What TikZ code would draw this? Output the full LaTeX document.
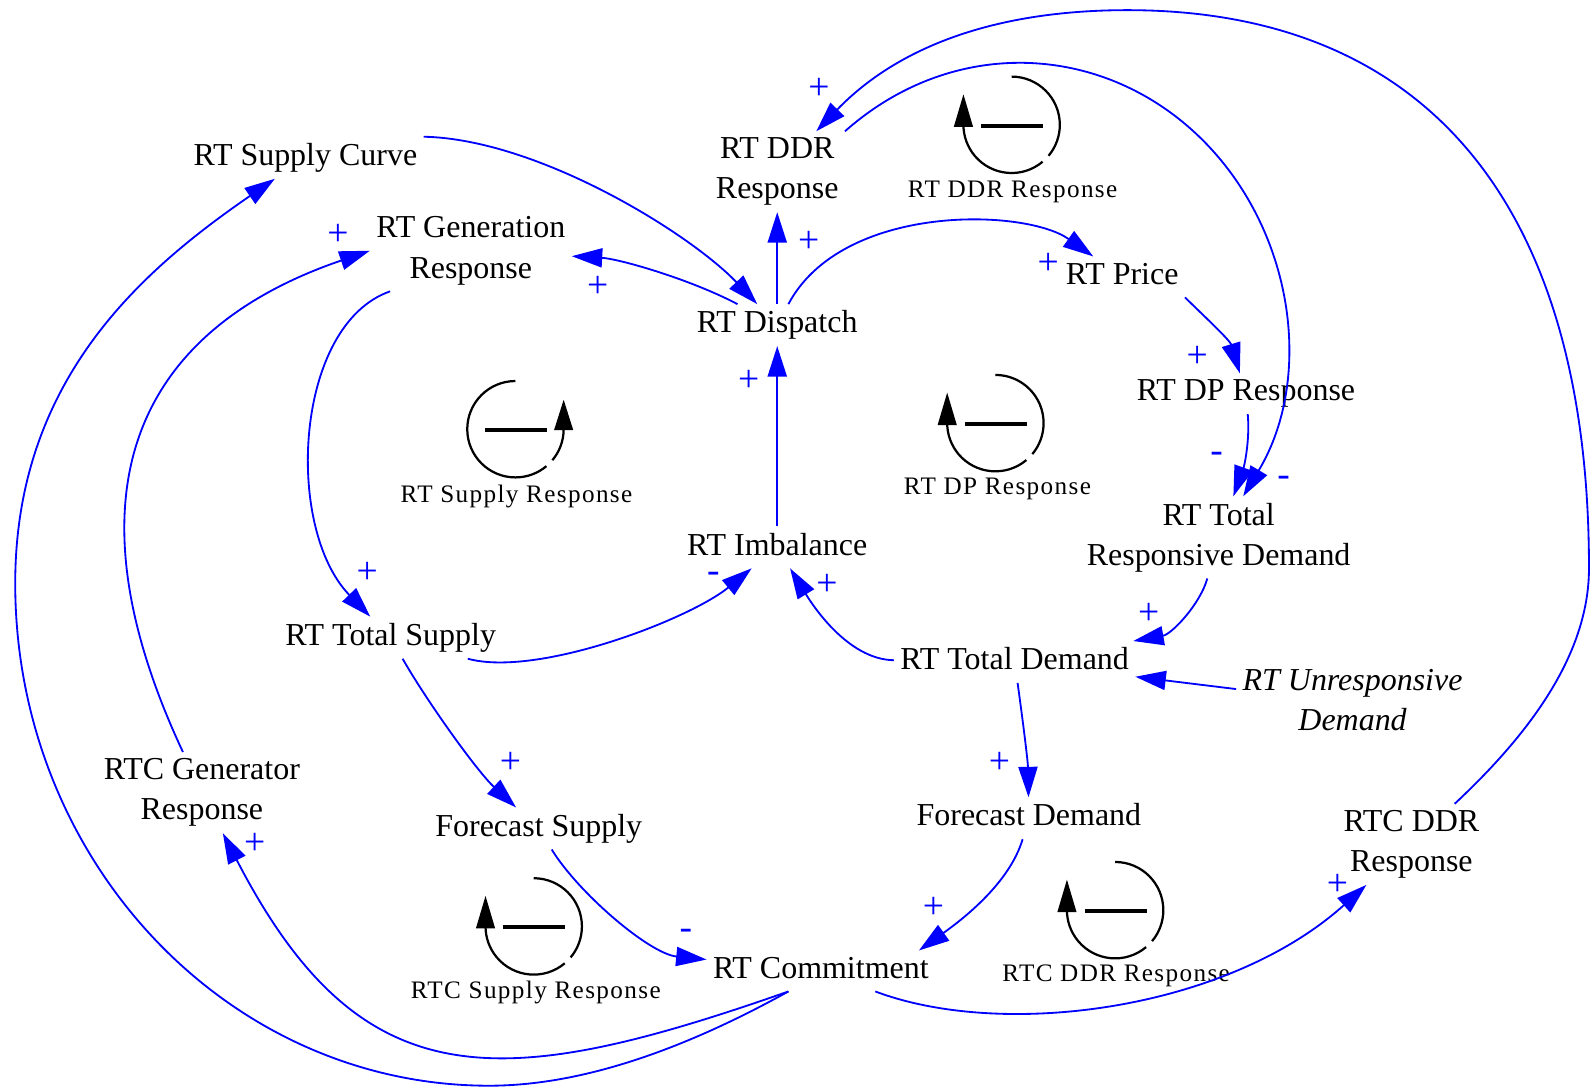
\documentclass[tikz,border=0pt]{standalone}
\usepackage{fontspec}
\setmainfont{Liberation Serif}
\usetikzlibrary{arrows.meta}
\definecolor{linkblue}{RGB}{0,0,255}
\tikzset{
  var/.style     = {inner sep=3pt, align=center, anchor=base,
                    font=\fontsize{15.75}{19.8}\selectfont,
                    execute at begin node={\vphantom{Rp}}},
  exo/.style     = {var, font=\fontsize{15.75}{19.8}\selectfont\itshape},
  link/.style    = {draw=linkblue, line width=0.9pt,
                    -{Triangle[length=15pt,width=9.4pt]}},
  pol/.style     = {text=linkblue, inner sep=0pt, font=\fontsize{18.5}{20}\selectfont},
  loopline/.style= {line width=1.1pt},
  looplbl/.style = {inner sep=0pt,
                    font=\fontsize{12.4}{15}\selectfont\addfontfeature{LetterSpace=5.5}},
  loopcw/.pic    = {
    \draw[loopline] (0,-47.5) arc[start angle=-90, end angle=40, radius=47.5];
    \draw[loopline] (50:47.5) arc[start angle=50, end angle=180, radius=47.5];
    \fill (-57,2) -- (-38,2) -- (-47.5,-30) -- cycle;
    \fill (-30,-1) rectangle (31,3);
  },
  loopccw/.pic   = {
    \draw[loopline] (0,-47.5) arc[start angle=-90, end angle=-310, radius=47.5];
    \draw[loopline] (-320:47.5) arc[start angle=-320, end angle=-360, radius=47.5];
    \fill (38,1) -- (57,1) -- (47.5,-29) -- cycle;
    \fill (-30,-1) rectangle (31,3);
  }
}

\begin{document}
\begin{tikzpicture}[x=0.5pt, y=-0.5pt]
  \useasboundingbox (0,0) rectangle (1568,1072);

  % variables (base = last line)
  \node[var] (supc)   at (301,163)  {RT Supply Curve};
  \node[var] (genr)   at (464,274)  {RT Generation\\Response};
  \node[var] (ddr)    at (766,196)  {RT DDR\\Response};
  \node[var] (disp)   at (766,328)  {RT Dispatch};
  \node[var] (price)  at (1106,280) {RT Price};
  \node[var] (dpr)    at (1228,395) {RT DP Response};
  \node[var] (trd)    at (1201,557) {RT Total\\Responsive Demand};
  \node[var] (imb)    at (766,547)  {RT Imbalance};
  \node[var] (tsup)   at (385,636)  {RT Total Supply};
  \node[var] (totd)   at (1000,660) {RT Total Demand};
  \node[exo] (unr)    at (1333,720) {RT Unresponsive\\Demand};
  \node[var] (rtcgen) at (199,808)  {RTC Generator\\Response};
  \node[var] (fsup)   at (531,824)  {Forecast Supply};
  \node[var] (fdem)   at (1014,814) {Forecast Demand};
  \node[var] (rtcddr) at (1391,859) {RTC DDR\\Response};
  \node[var] (rtc)    at (809,964)  {RT Commitment};

  % loops
  \pic (lddr)   at (997,123)  {loopcw};
  \pic (lsup)   at (508,423)  {loopccw};
  \pic (ldp)    at (981,417)  {loopcw};
  \pic (lrtcs)  at (526,913)  {loopcw};
  \pic (lrtcd)  at (1099,897) {loopcw};
  \node[looplbl] (lblddr)  at (998,189)  {RT DDR Response};
  \node[looplbl] (lblsup)  at (509,489)  {RT Supply Response};
  \node[looplbl] (lbldp)   at (983,482)  {RT DP Response};
  \node[looplbl] (lblrtcs) at (528,978)  {RTC Supply Response};
  \node[looplbl] (lblrtcd) at (1100,962) {RTC DDR Response};

  % links
  \draw[link] (supc.north east) .. controls (530,137) and (680,230) .. (disp);
  \draw[link] (disp) .. controls (680,275) and (610,255) .. (genr);
  \draw[link] (disp) -- (ddr);
  \draw[link] (disp) .. controls (830,200) and (1010,205) .. (price);
  \draw[link] (price.south east) .. controls (1185,310) and (1212,335) .. (dpr);
  \draw[link] (dpr) .. controls (1232,435) and (1226,460) .. (trd);
  \draw[link] (ddr.north east) .. controls (938,36) and (1083,42) .. (1179,132)
              .. controls (1275,222) and (1296,371) .. (trd);
  \draw[link] (trd) .. controls (1183,595) and (1155,625) .. (totd);
  \draw[link] (unr) -- (totd);
  \draw[link] (totd) .. controls (835,650) and (800,595) .. (imb);
  \draw[link] (tsup) .. controls (530,668) and (680,610) .. (imb);
  \draw[link] (imb) -- (disp);
  \draw[link] ([xshift=10pt]genr.south west) .. controls (290,320) and (280,520) .. (tsup);
  \draw[link] (tsup) .. controls (420,690) and (470,760) .. (fsup);
  \draw[link] (totd) .. controls (1008,710) and (1013,750) .. (fdem);
  \draw[link] (fsup) .. controls (570,880) and (640,940) .. (rtc);
  \draw[link] (fdem) .. controls (995,870) and (950,905) .. ([xshift=-8pt]rtc.north east);
  \draw[link] (rtc) .. controls (990,1025) and (1210,995) .. (rtcddr);
  \draw[link] ([xshift=-16pt]rtc.south) .. controls (492,1077) and (356,1085) .. (rtcgen);
  \draw[link] ([xshift=-16pt]rtc.south) .. controls (687,1027) and (582,1070) .. (482,1070)
              .. controls (224,1070) and (15,848) .. (15,575)
              .. controls (15,375) and (139,267) .. (supc);
  \draw[link] (rtcgen) .. controls (58,480) and (139,324) .. (genr.west);
  \draw[link] (rtcddr) .. controls (1500,730) and (1566,650) .. (1566,560)
              .. controls (1566,203) and (1407,10) .. (1111,10)
              .. controls (981,10) and (885,46) .. (ddr);

  % polarities
  \node[pol] (pddr)    at (807,88)   {+};
  \node[pol] (pdispd)  at (797,238)  {+};
  \node[pol] (pgenr)   at (589,283)  {+};
  \node[pol] (pgenl)   at (333,231)  {+};
  \node[pol] (pprice)  at (1033,260) {+};
  \node[pol] (pdpr)    at (1180,352) {+};
  \node[pol] (ptrdl)   at (1199,451) {-};
  \node[pol] (ptrdr)   at (1265,474) {-};
  \node[pol] (pdisp)   at (738,375)  {+};
  \node[pol] (ptsup)   at (362,565)  {+};
  \node[pol] (pimbl)   at (703,569)  {-};
  \node[pol] (pimbr)   at (815,576)  {+};
  \node[pol] (ptotd)   at (1132,605) {+};
  \node[pol] (pfsup)   at (503,752)  {+};
  \node[pol] (pfdem)   at (985,752)  {+};
  \node[pol] (prtcl)   at (676,921)  {-};
  \node[pol] (prtcr)   at (920,895)  {+};
  \node[pol] (prtcgen) at (251,832)  {+};
  \node[pol] (prtcddr) at (1318,872) {+};
\end{tikzpicture}
\end{document}
